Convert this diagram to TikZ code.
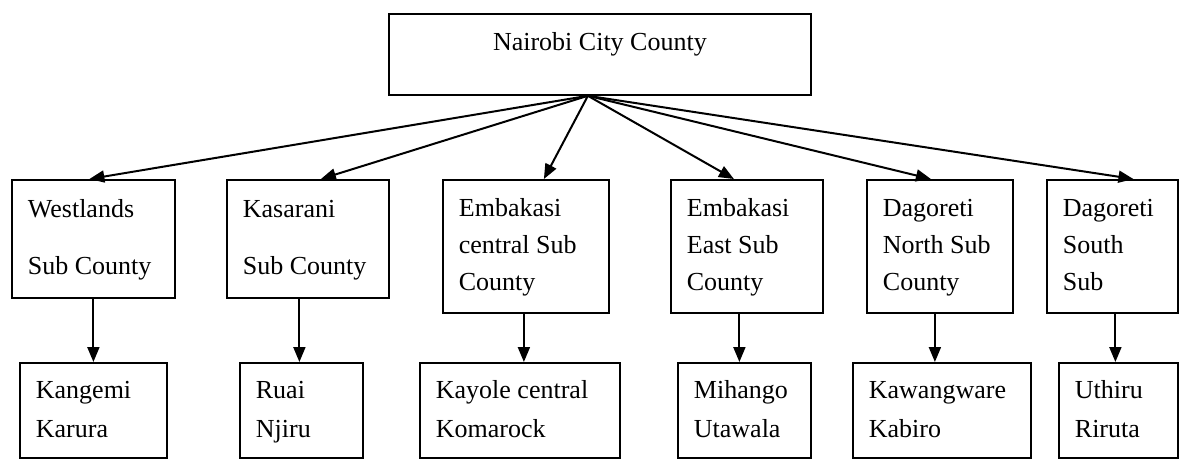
\documentclass[tikz,border=0pt]{standalone}
\usepackage{fontspec}
\setmainfont{Liberation Serif}
\usetikzlibrary{arrows.meta}

\tikzset{
  box/.style={draw, rectangle, line width=1.8pt, anchor=north west, inner xsep=16pt, inner ysep=0pt, align=flush left, font=\fontsize{26}{37}\selectfont},
  link/.style={line width=2pt, -{Triangle[length=15pt, width=12pt]}}
}

\begin{document}
\begin{tikzpicture}[x=1pt, y=-1pt]
\useasboundingbox (0,0) rectangle (1181,458);

\node[box, align=center, minimum width=422pt, minimum height=81pt, text height=18pt, text depth=25pt] at (388, 13) (nairobi) {Nairobi City County};
\coordinate (hub) at ([xshift=-12pt]nairobi.south);

\node[box, text width=131pt, minimum height=118pt] at (11, 179) (westlands) {\strut Westlands\\[20pt]Sub County\strut};
\node[box, text width=130pt, minimum height=118pt] at (226, 179) (kasarani) {\strut Kasarani\\[20pt]Sub County\strut};
\node[box, text width=134pt, minimum height=133pt] at (442, 179) (embcentral) {\strut Embakasi\\central Sub\\County\strut};
\node[box, text width=120pt, minimum height=133pt] at (670, 179) (embeast) {\strut Embakasi\\East Sub\\County\strut};
\node[box, text width=114pt, minimum height=133pt] at (866, 179) (dagnorth) {\strut Dagoreti\\North Sub\\County\strut};
\node[box, text width=99pt, minimum height=133pt] at (1046, 179) (dagsouth) {\strut Dagoreti\\South\\Sub\strut};

\node[box, text width=115pt, minimum height=95pt] at (19, 362) (kangemi) {\strut Kangemi\\[2pt]Karura\strut};
\node[box, text width=91pt, minimum height=95pt] at (239, 362) (ruai) {\strut Ruai\\[2pt]Njiru\strut};
\node[box, text width=168pt, minimum height=95pt] at (419, 362) (kayole) {\strut Kayole central\\[2pt]Komarock\strut};
\node[box, text width=101pt, minimum height=95pt] at (677, 362) (mihango) {\strut Mihango\\[2pt]Utawala\strut};
\node[box, text width=146pt, minimum height=95pt] at (852, 362) (kawangware) {\strut Kawangware\\[2pt]Kabiro\strut};
\node[box, text width=87pt, minimum height=95pt] at (1058, 362) (uthiru) {\strut Uthiru\\[2pt]Riruta\strut};

\draw[link] (hub) -- ([xshift=-4pt]westlands.north);
\draw[link] (hub) -- ([xshift=13pt]kasarani.north);
\draw[link] (hub) -- ([xshift=18pt]embcentral.north);
\draw[link] (hub) -- ([xshift=-13pt]embeast.north);
\draw[link] (hub) -- ([xshift=-9pt]dagnorth.north);
\draw[link] (hub) -- ([xshift=21pt]dagsouth.north);

\draw[link] (kangemi.north |- westlands.south) -- (kangemi.north);
\draw[link] ([xshift=-2pt]ruai.north |- kasarani.south) -- ([xshift=-2pt]ruai.north);
\draw[link] ([xshift=4pt]kayole.north |- embcentral.south) -- ([xshift=4pt]kayole.north);
\draw[link] ([xshift=-5pt]mihango.north |- embeast.south) -- ([xshift=-5pt]mihango.north);
\draw[link] ([xshift=-7pt]kawangware.north |- dagnorth.south) -- ([xshift=-7pt]kawangware.north);
\draw[link] ([xshift=-3pt]uthiru.north |- dagsouth.south) -- ([xshift=-3pt]uthiru.north);
\end{tikzpicture}
\end{document}
